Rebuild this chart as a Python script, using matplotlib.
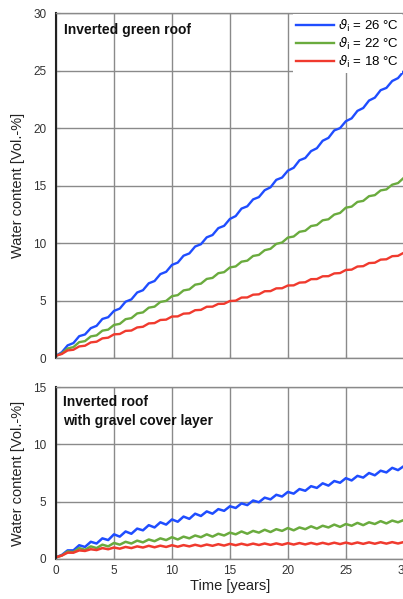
import numpy as np
import matplotlib
matplotlib.use("Agg")
import matplotlib.pyplot as plt

plt.rcParams["font.family"] = ["Liberation Sans", "DejaVu Sans"]

# Time axis, half-year steps
years = np.arange(0, 30.5, 0.5)

# Inverted green roof, water content [Vol.-%]
green_26 = [0.2, 0.5, 1.1, 1.3, 1.9, 2.05, 2.6, 2.8, 3.4, 3.55, 4.1, 4.3, 4.9, 5.1, 5.7, 5.9,
            6.5, 6.7, 7.3, 7.5, 8.1, 8.3, 8.9, 9.1, 9.7, 9.9, 10.5, 10.7, 11.3, 11.5, 12.1,
            12.35, 13.0, 13.2, 13.8, 14.0, 14.6, 14.85, 15.5, 15.7, 16.3, 16.55, 17.2, 17.4,
            18.0, 18.25, 18.9, 19.15, 19.8, 20.0, 20.6, 20.85, 21.5, 21.75, 22.4, 22.65, 23.3,
            23.5, 24.1, 24.35, 24.95]
green_22 = [0.2, 0.4, 0.83, 0.95, 1.38, 1.47, 1.88, 1.97, 2.38, 2.47, 2.88, 2.97, 3.38, 3.47,
            3.88, 3.97, 4.38, 4.47, 4.88, 4.97, 5.38, 5.47, 5.88, 5.97, 6.38, 6.47, 6.88, 6.97,
            7.38, 7.47, 7.88, 7.97, 8.38, 8.47, 8.88, 8.97, 9.38, 9.5, 9.93, 10.05, 10.48,
            10.57, 10.98, 11.07, 11.48, 11.57, 11.98, 12.07, 12.48, 12.62, 13.08, 13.17, 13.58,
            13.67, 14.08, 14.17, 14.58, 14.67, 15.08, 15.22, 15.68]
green_18 = [0.2, 0.35, 0.66, 0.72, 1.01, 1.07, 1.36, 1.42, 1.71, 1.77, 2.06, 2.09, 2.36, 2.39,
            2.66, 2.72, 3.01, 3.04, 3.31, 3.34, 3.61, 3.62, 3.86, 3.89, 4.16, 4.19, 4.46, 4.47,
            4.71, 4.72, 4.96, 4.99, 5.26, 5.27, 5.51, 5.54, 5.81, 5.82, 6.06, 6.07, 6.31, 6.32,
            6.56, 6.59, 6.86, 6.87, 7.11, 7.12, 7.36, 7.39, 7.66, 7.69, 7.96, 7.99, 8.26, 8.29,
            8.56, 8.59, 8.86, 8.89, 9.16]

# Inverted roof with gravel cover layer
gravel_26 = [0.15, 0.35, 0.75, 0.75, 1.2, 1.05, 1.5, 1.35, 1.8, 1.65, 2.15, 1.95, 2.4, 2.2,
             2.65, 2.5, 2.95, 2.75, 3.2, 3.0, 3.45, 3.25, 3.7, 3.5, 3.95, 3.75, 4.15, 3.95,
             4.35, 4.2, 4.6, 4.45, 4.85, 4.7, 5.1, 4.95, 5.35, 5.2, 5.6, 5.45, 5.85, 5.7, 6.1,
             5.95, 6.35, 6.2, 6.6, 6.4, 6.8, 6.65, 7.05, 6.85, 7.25, 7.1, 7.5, 7.3, 7.7, 7.55,
             7.95, 7.75, 8.1]
gravel_22 = [0.15, 0.3, 0.65, 0.6, 0.95, 0.8, 1.1, 0.95, 1.25, 1.1, 1.4, 1.25, 1.5, 1.35, 1.6,
             1.45, 1.7, 1.55, 1.8, 1.65, 1.9, 1.7, 1.95, 1.8, 2.05, 1.9, 2.15, 1.95, 2.2, 2.05,
             2.3, 2.15, 2.4, 2.2, 2.45, 2.3, 2.55, 2.35, 2.6, 2.45, 2.7, 2.5, 2.75, 2.6, 2.85,
             2.65, 2.9, 2.75, 3.0, 2.8, 3.05, 2.9, 3.15, 2.95, 3.2, 3.05, 3.3, 3.1, 3.35, 3.2, 3.4]
gravel_18 = [0.15, 0.3, 0.55, 0.55, 0.75, 0.7, 0.85, 0.78, 0.95, 0.85, 1.0, 0.9, 1.05, 0.95,
             1.1, 1.0, 1.15, 1.02, 1.16, 1.05, 1.2, 1.07, 1.21, 1.1, 1.24, 1.12, 1.26, 1.15,
             1.29, 1.17, 1.32, 1.2, 1.33, 1.21, 1.34, 1.22, 1.35, 1.23, 1.36, 1.24, 1.38, 1.26,
             1.39, 1.27, 1.4, 1.28, 1.41, 1.29, 1.42, 1.3, 1.43, 1.31, 1.44, 1.32, 1.45, 1.33,
             1.46, 1.34, 1.47, 1.35, 1.48]

labels = [r"$\vartheta_{\rm i}$ = 26 °C", r"$\vartheta_{\rm i}$ = 22 °C", r"$\vartheta_{\rm i}$ = 18 °C"]
colors = ["#1f4dff", "#6aab3e", "#f03a2e"]

fig = plt.figure(figsize=(4.03, 5.99), dpi=100)
ax_top = fig.add_axes([0.139, 0.4023, 0.863, 0.5757])
ax_bot = fig.add_axes([0.139, 0.0668, 0.863, 0.2871])


def style_axes(ax, ymax):
    ax.set_xlim(0, 30)
    ax.set_ylim(0, ymax)
    ax.set_xticks(range(0, 31, 5))
    ax.set_yticks(range(0, ymax + 1, 5))
    ax.grid(True, color="#8a8a8a", linewidth=1.0)
    ax.set_axisbelow(True)
    ax.tick_params(direction="in", length=3, color="#8a8a8a", labelsize=8.5,
                   labelcolor="#333333")
    ax.tick_params(axis="y", pad=7)
    ax.tick_params(axis="x", pad=4)
    for side in ["top", "right", "bottom"]:
        ax.spines[side].set_color("#8a8a8a")
        ax.spines[side].set_linewidth(1.0)
    ax.spines["left"].set_color("#222222")
    ax.spines["left"].set_linewidth(1.5)
    ax.set_ylabel("Water content [Vol.-%]", fontsize=10.5, color="#222222", labelpad=6)


# Upper panel
for vals, c, lab in zip([green_26, green_22, green_18], colors, labels):
    ax_top.plot(years, vals, color=c, linewidth=1.7, label=lab)
style_axes(ax_top, 30)
ax_top.set_xticklabels([])
ax_top.text(0.023, 0.972, "Inverted green roof", transform=ax_top.transAxes,
            fontsize=10, fontweight="bold", va="top", ha="left", color="#111111")
leg = ax_top.legend(loc="upper right", fontsize=9.5, frameon=True, fancybox=False,
                    edgecolor="none", framealpha=1, handlelength=2.9, handletextpad=0.3,
                    labelspacing=0.15, borderaxespad=0.1, borderpad=0.25)
leg.get_frame().set_linewidth(0)

# Lower panel
for vals, c in zip([gravel_26, gravel_22, gravel_18], colors):
    ax_bot.plot(years, vals, color=c, linewidth=1.8)
style_axes(ax_bot, 15)
ax_bot.text(0.02, 0.955, "Inverted roof\nwith gravel cover layer", transform=ax_bot.transAxes,
            fontsize=10, fontweight="bold", va="top", ha="left", color="#111111",
            linespacing=1.45)
ax_bot.set_xlabel("Time [years]", fontsize=10.5, color="#222222", labelpad=2)

fig.savefig("out.png", dpi=100)
